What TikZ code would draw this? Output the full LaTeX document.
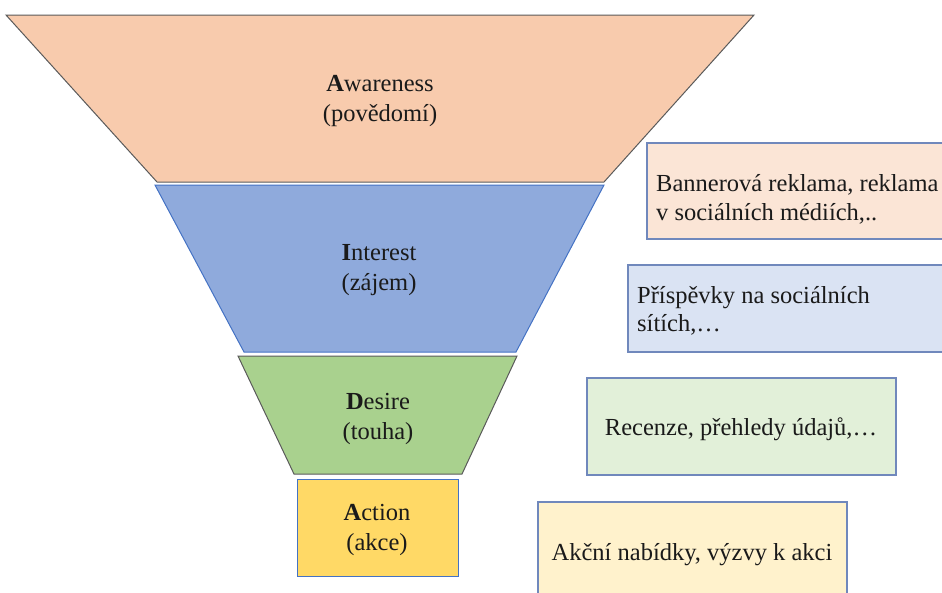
\documentclass[tikz,border=0pt]{standalone}
\usepackage{fontspec}
\setmainfont{Liberation Serif}
\definecolor{awaF}{HTML}{F8CBAD}
\definecolor{intF}{HTML}{8FAADC}
\definecolor{desF}{HTML}{A9D18E}
\definecolor{actF}{HTML}{FFD966}
\definecolor{awaL}{HTML}{FBE5D6}
\definecolor{intL}{HTML}{DAE3F3}
\definecolor{desL}{HTML}{E2F0D9}
\definecolor{actL}{HTML}{FFF2CC}
\definecolor{grayB}{HTML}{5A5A5A}
\definecolor{blueB}{HTML}{4472C4}
\definecolor{boxB}{HTML}{7088BC}
\definecolor{txt}{HTML}{1A1A1A}
\begin{document}
\begin{tikzpicture}[x=1pt,y=-1pt,
  lbl/.style={font=\fontsize{24.5}{30}\selectfont, text=txt, align=center, inner sep=0pt},
  sidetxt/.style={font=\fontsize{24.5}{29}\selectfont, text=txt, inner sep=0pt},
  stage/.style={line width=1pt, line join=miter},
  sidebox/.style={line width=1.2pt, draw=boxB}]
\useasboundingbox (0,0) rectangle (942,592);
\begin{scope}
\clip (0,0) rectangle (942,592);
% funnel stages
\filldraw[stage, fill=awaF, draw=grayB] (6,15) -- (754,15) -- (604,182) -- (157,182) -- cycle;
\filldraw[stage, fill=intF, draw=blueB] (155,185) -- (604,185) -- (516,352) -- (244,352) -- cycle;
\filldraw[stage, fill=desF, draw=grayB] (238,356) -- (517,356) -- (462,474) -- (294,474) -- cycle;
\filldraw[stage, fill=actF, draw=blueB] (297,479) rectangle (458,576);
% side boxes
\filldraw[sidebox, fill=awaL] (647,143) rectangle (960,239);
\filldraw[sidebox, fill=intL] (628,265) rectangle (960,352);
\filldraw[sidebox, fill=desL] (587,378) rectangle (896,475);
\filldraw[sidebox, fill=actL] (538,502) rectangle (847,610);
\end{scope}
% stage labels
\node[lbl] (awa) at (380,101) {\textbf{A}wareness\\(povědomí)};
\node[lbl] (int) at (379,270) {\textbf{I}nterest\\(zájem)};
\node[lbl] (des) at (378,419) {\textbf{D}esire\\(touha)};
\node[lbl] (act) at (377,530) {\textbf{A}ction\\(akce)};
% side texts
\node[sidetxt, anchor=base west] (t1) at (656,191) {Bannerová reklama, reklama};
\node[sidetxt, anchor=base west] (t1b) at (656,220) {v sociálních médiích,..};
\node[sidetxt, anchor=base west] (t2) at (637,303) {Příspěvky na sociálních};
\node[sidetxt, anchor=base west] (t2b) at (637,331) {sítích,…};
\node[sidetxt, anchor=base] (t3) at (741,435) {Recenze, přehledy údajů,…};
\node[sidetxt, anchor=base] (t4) at (692,560) {Akční nabídky, výzvy k akci};
\end{tikzpicture}
\end{document}
